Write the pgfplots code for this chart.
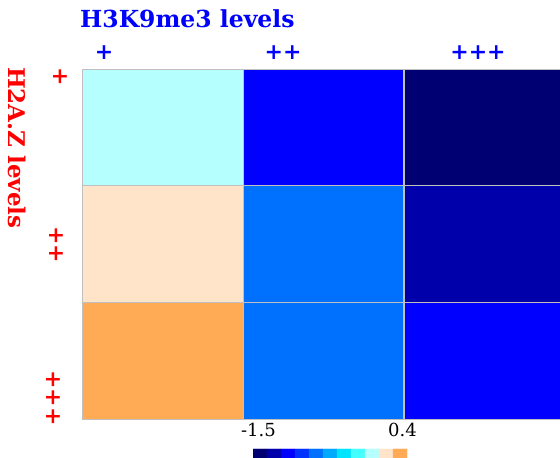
\documentclass[border=0pt]{standalone}
\usepackage{fontspec}
\setmainfont{DejaVu Serif}
\usepackage{pgfplots}
\usepackage{pgfplotstable}
\pgfplotsset{compat=1.18}

% discrete palette shared by the heat map and its key
\pgfplotsset{
  colormap={levels}{
    rgb255=(0,0,114) rgb255=(0,0,170) rgb255=(0,0,255) rgb255=(0,51,255)
    rgb255=(0,112,255) rgb255=(0,170,255) rgb255=(0,229,255) rgb255=(68,255,255)
    rgb255=(181,255,255) rgb255=(255,228,202) rgb255=(255,170,85)
  },
}
\definecolor{gridgray}{RGB}{192,192,192}

% cell colour indices: x = H3K9me3 level, y = H2A.Z level
\pgfplotstableread{
x y c
0 0 8
1 0 2
2 0 0
0 1 9
1 1 4
2 1 1
0 2 10
1 2 4
2 2 2
}\cells

% key: the eleven palette steps, two identical rows
\pgfplotstableread{
x y c
0 0 0
1 0 1
2 0 2
3 0 3
4 0 4
5 0 5
6 0 6
7 0 7
8 0 8
9 0 9
10 0 10
0 1 0
1 1 1
2 1 2
3 1 3
4 1 4
5 1 5
6 1 6
7 1 7
8 1 8
9 1 9
10 1 10
}\keycells

\begin{document}
\begin{tikzpicture}
\useasboundingbox (0pt,0pt) rectangle (560pt,458pt);
\clip (0pt,0pt) rectangle (560pt,458pt);

\begin{axis}[
  at={(82pt,39pt)}, anchor=south west,
  scale only axis, width=483pt, height=350pt,
  xmin=-0.5, xmax=2.5, ymin=-0.5, ymax=2.5,
  y dir=reverse,
  colormap name=levels, colormap access=direct,
  xtick={0.5,1.5}, xticklabels={}, ytick={0.5,1.5}, yticklabels={},
  major tick length=0pt,
  grid=major,
  major grid style={gridgray, line width=1pt},
  axis line style={gridgray, line width=1pt},
  axis on top,
]
\addplot[matrix plot*, mesh/cols=3, point meta=explicit] table[meta=c] {\cells};
\end{axis}

\begin{axis}[
  at={(253pt,-9pt)}, anchor=south west,
  scale only axis, width=154pt, height=18pt,
  xmin=-0.5, xmax=10.5, ymin=-0.5, ymax=1.5,
  colormap name=levels, colormap access=direct,
  hide axis,
]
\addplot[matrix plot*, mesh/cols=11, point meta=explicit] table[meta=c] {\keycells};
\end{axis}

% titles
\node[anchor=base west, inner sep=0pt, text=blue,
      font=\fontsize{23.5}{26}\selectfont\bfseries] at (80pt,430.5pt) {H3K9me3 levels};
\node[anchor=base west, inner sep=0pt, text=red, rotate=-90,
      font=\fontsize{23}{26}\selectfont\bfseries] at (9pt,391pt) {H2A.Z levels};

% level labels
\begin{scope}[every node/.style={inner sep=0pt, anchor=center,
      font=\fontsize{22}{24}\selectfont\bfseries}]
  \node[text=blue] at (104pt,405pt) {+};
  \node[text=blue] at (283pt,405pt) {++};
  \node[text=blue] at (478pt,405pt) {+++};
  \node[text=red, rotate=-90] at (60pt,381pt) {+};
  \node[text=red, rotate=-90] at (56pt,213pt) {++};
  \node[text=red, rotate=-90] at (53pt,60pt) {+++};
\end{scope}

% key limits
\node[inner sep=0pt, font=\fontsize{18}{20}\selectfont] at (258.5pt,28pt) {-1.5};
\node[inner sep=0pt, font=\fontsize{18}{20}\selectfont] at (402.5pt,28pt) {0.4};
\end{tikzpicture}
\end{document}
